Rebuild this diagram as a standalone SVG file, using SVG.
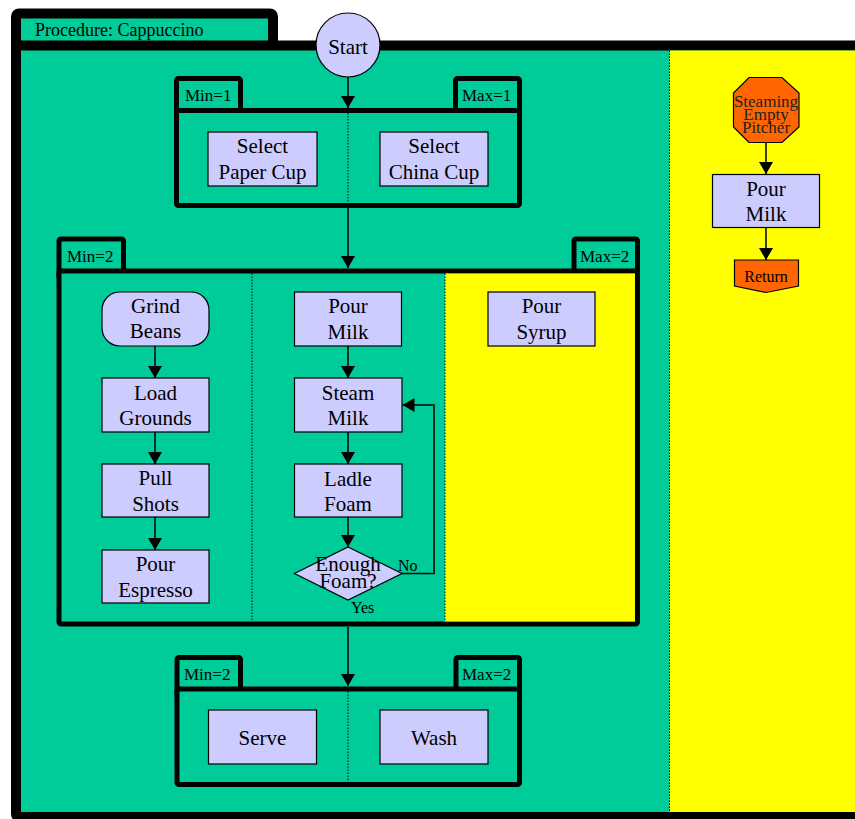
<svg xmlns="http://www.w3.org/2000/svg" width="855" height="819" viewBox="0 0 855 819">
<style>
.frame{fill:#00CC99;stroke:#000;stroke-linejoin:round}
.node{fill:#CCCCFF;stroke:#000;stroke-width:1.2}
.term{fill:#FF6600;stroke:#000;stroke-width:1.2}
.t{font-family:"Liberation Serif","Times New Roman",serif;font-size:21px;fill:#000;text-anchor:middle}
.lbl{font-family:"Liberation Serif","Times New Roman",serif;font-size:17px;fill:#000}
.small{font-family:"Liberation Serif","Times New Roman",serif;font-size:16px;fill:#000}
.dot{stroke:#000;stroke-width:1;stroke-dasharray:1.5,1.5;fill:none}
.conn{stroke:#000;stroke-width:1.5;fill:none}
</style>
<defs>
<marker id="arr" markerUnits="userSpaceOnUse" viewBox="0 0 12 14" refX="12" refY="7" markerWidth="12" markerHeight="14" orient="auto">
<path d="M0,0 L12,7 L0,14 z" fill="#000"/>
</marker>
</defs>

<g id="procedure">
<rect class="frame" x="16" y="13.5" width="257" height="40" rx="3" stroke-width="10"/>
<rect class="frame" x="16" y="45.5" width="860" height="771.5" rx="3" stroke-width="10"/>
<rect x="669.5" y="50.5" width="190" height="761.5" fill="#FFFF00"/>
<line class="dot" x1="669.5" y1="50.5" x2="669.5" y2="812"/>
<text class="lbl" x="35" y="36" style="font-size:18px">Procedure: Cappuccino</text>
</g>

<g id="group1">
<rect class="frame" x="176.5" y="78.5" width="64" height="40" rx="2" stroke-width="5"/>
<rect class="frame" x="455.5" y="78.5" width="64" height="40" rx="2" stroke-width="5"/>
<rect class="frame" x="176.5" y="110.5" width="343" height="95" rx="2" stroke-width="5"/>
<line class="dot" x1="348" y1="113" x2="348" y2="203"/>
<text class="lbl" x="185" y="101">Min=1</text>
<text class="lbl" x="462" y="101">Max=1</text>
</g>

<g id="group2">
<rect class="frame" x="59" y="239" width="64.5" height="40" rx="2" stroke-width="5"/>
<rect class="frame" x="574" y="239" width="63.5" height="40" rx="2" stroke-width="5"/>
<rect class="frame" x="59" y="271" width="578.5" height="353" rx="2" stroke-width="5"/>
<rect x="445" y="273.5" width="190" height="348" fill="#FFFF00"/>
<line class="dot" x1="252" y1="273.5" x2="252" y2="621.5"/>
<line class="dot" x1="445" y1="273.5" x2="445" y2="621.5"/>
<text class="lbl" x="67" y="262">Min=2</text>
<text class="lbl" x="580" y="262">Max=2</text>
</g>

<g id="group3">
<rect class="frame" x="177" y="657.5" width="63.5" height="40" rx="2" stroke-width="5"/>
<rect class="frame" x="456" y="657.5" width="63.5" height="40" rx="2" stroke-width="5"/>
<rect class="frame" x="177" y="689" width="342.5" height="95.5" rx="2" stroke-width="5"/>
<line class="dot" x1="348" y1="691.5" x2="348" y2="782"/>
<text class="lbl" x="184" y="680">Min=2</text>
<text class="lbl" x="462" y="680">Max=2</text>
</g>

<g id="connectors">
<line class="conn" x1="348" y1="77" x2="348" y2="108" marker-end="url(#arr)"/>
<line class="conn" x1="348" y1="208" x2="348" y2="268" marker-end="url(#arr)"/>
<line class="conn" x1="348" y1="627" x2="348" y2="686" marker-end="url(#arr)"/>
<line class="conn" x1="155" y1="346" x2="155" y2="378" marker-end="url(#arr)"/>
<line class="conn" x1="155" y1="432" x2="155" y2="464" marker-end="url(#arr)"/>
<line class="conn" x1="155" y1="517" x2="155" y2="550" marker-end="url(#arr)"/>
<line class="conn" x1="348" y1="346" x2="348" y2="378" marker-end="url(#arr)"/>
<line class="conn" x1="348" y1="432" x2="348" y2="464" marker-end="url(#arr)"/>
<line class="conn" x1="348" y1="517" x2="348" y2="547" marker-end="url(#arr)"/>
<polyline class="conn" points="402,573.5 434,573.5 434,405 402.5,405" marker-end="url(#arr)"/>
<line class="conn" x1="766" y1="142" x2="766" y2="174" marker-end="url(#arr)"/>
<line class="conn" x1="766" y1="228" x2="766" y2="260" marker-end="url(#arr)"/>
</g>

<g id="start">
<circle class="node" cx="348" cy="45" r="32"/>
<text class="t" x="348" y="54">Start</text>
</g>
<g id="selectPaperCup">
<rect class="node" x="208" y="132" width="109" height="54"/>
<text class="t" x="262.5" y="153">Select</text>
<text class="t" x="262.5" y="179">Paper Cup</text>
</g>
<g id="selectChinaCup">
<rect class="node" x="380" y="132" width="108" height="54"/>
<text class="t" x="434" y="153">Select</text>
<text class="t" x="434" y="179">China Cup</text>
</g>
<g id="grindBeans">
<rect class="node" x="102" y="292" width="107" height="54" rx="18"/>
<text class="t" x="155.5" y="313">Grind</text>
<text class="t" x="155.5" y="338">Beans</text>
</g>
<g id="loadGrounds">
<rect class="node" x="102" y="378" width="107" height="54"/>
<text class="t" x="155.5" y="400">Load</text>
<text class="t" x="155.5" y="425">Grounds</text>
</g>
<g id="pullShots">
<rect class="node" x="102" y="464" width="107" height="53"/>
<text class="t" x="155.5" y="485">Pull</text>
<text class="t" x="155.5" y="511">Shots</text>
</g>
<g id="pourEspresso">
<rect class="node" x="102" y="550" width="107" height="53"/>
<text class="t" x="155.5" y="571">Pour</text>
<text class="t" x="155.5" y="597">Espresso</text>
</g>
<g id="pourMilk">
<rect class="node" x="294.5" y="292" width="107" height="54"/>
<text class="t" x="348" y="313">Pour</text>
<text class="t" x="348" y="339">Milk</text>
</g>
<g id="steamMilk">
<rect class="node" x="294.5" y="378" width="107.5" height="54"/>
<text class="t" x="348" y="400">Steam</text>
<text class="t" x="348" y="425">Milk</text>
</g>
<g id="ladleFoam">
<rect class="node" x="294.5" y="464" width="107.5" height="53"/>
<text class="t" x="348" y="486">Ladle</text>
<text class="t" x="348" y="511">Foam</text>
</g>
<g id="enoughFoam">
<polygon class="node" points="348,547 402,573.5 348,600 294.5,573.5"/>
<text class="t" x="348" y="571">Enough</text>
<text class="t" x="348" y="588">Foam?</text>
<text class="small" x="398" y="571">No</text>
<text class="small" x="351" y="613">Yes</text>
</g>
<g id="pourSyrup">
<rect class="node" x="488" y="292" width="107" height="54"/>
<text class="t" x="541.5" y="313">Pour</text>
<text class="t" x="541.5" y="339">Syrup</text>
</g>
<g id="serve">
<rect class="node" x="208.5" y="710" width="108" height="54"/>
<text class="t" x="262.5" y="745">Serve</text>
</g>
<g id="wash">
<rect class="node" x="380" y="710" width="108" height="54"/>
<text class="t" x="434" y="745">Wash</text>
</g>
<g id="steamingEmptyPitcher">
<polygon class="term" points="749,77.5 782,77.5 799,93 799,127 782,142.5 749,142.5 733.5,127 733.5,93"/>
<text class="t" x="766" y="107" style="font-size:17px;fill:#222">Steaming</text>
<text class="t" x="766" y="120" style="font-size:17px;fill:#222">Empty</text>
<text class="t" x="766" y="133" style="font-size:17px;fill:#222">Pitcher</text>
</g>
<g id="pourMilk2">
<rect class="node" x="712.5" y="174.5" width="107" height="53"/>
<text class="t" x="766" y="196">Pour</text>
<text class="t" x="766" y="221">Milk</text>
</g>
<g id="return">
<polygon class="term" points="734.5,260 798.5,260 798.5,286 766,292.5 734.5,286"/>
<text class="t" x="766" y="282" style="font-size:16px">Return</text>
</g>
</svg>
